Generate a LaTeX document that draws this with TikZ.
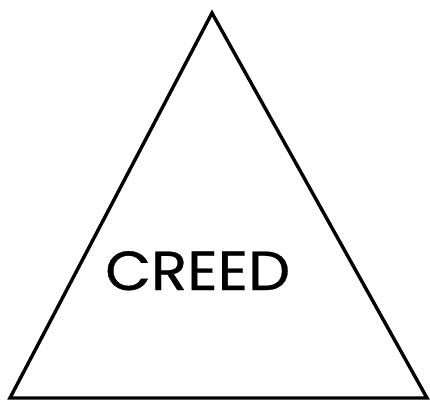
\documentclass[tikz,border=0pt]{standalone}
\usepackage{fontspec}
\setmainfont{Poppins}[FakeStretch=1.08,FakeBold=0.6]
\begin{document}
\begin{tikzpicture}[x=1pt,y=-1pt,
  tri/.style={draw=black,line width=3.4pt,line join=miter},
  lbl/.style={inner sep=0pt,font=\fontsize{55}{55}\selectfont}]
\useasboundingbox (0,0) rectangle (430,402);
\coordinate (apex) at (212,13);
\coordinate (bl) at (10,398);
\coordinate (br) at (427,398);
\draw[tri] (apex) -- (bl) -- (br) -- cycle;
\node[lbl,anchor=base west] (creed) at (105,290) {CREED};
\end{tikzpicture}
\end{document}
